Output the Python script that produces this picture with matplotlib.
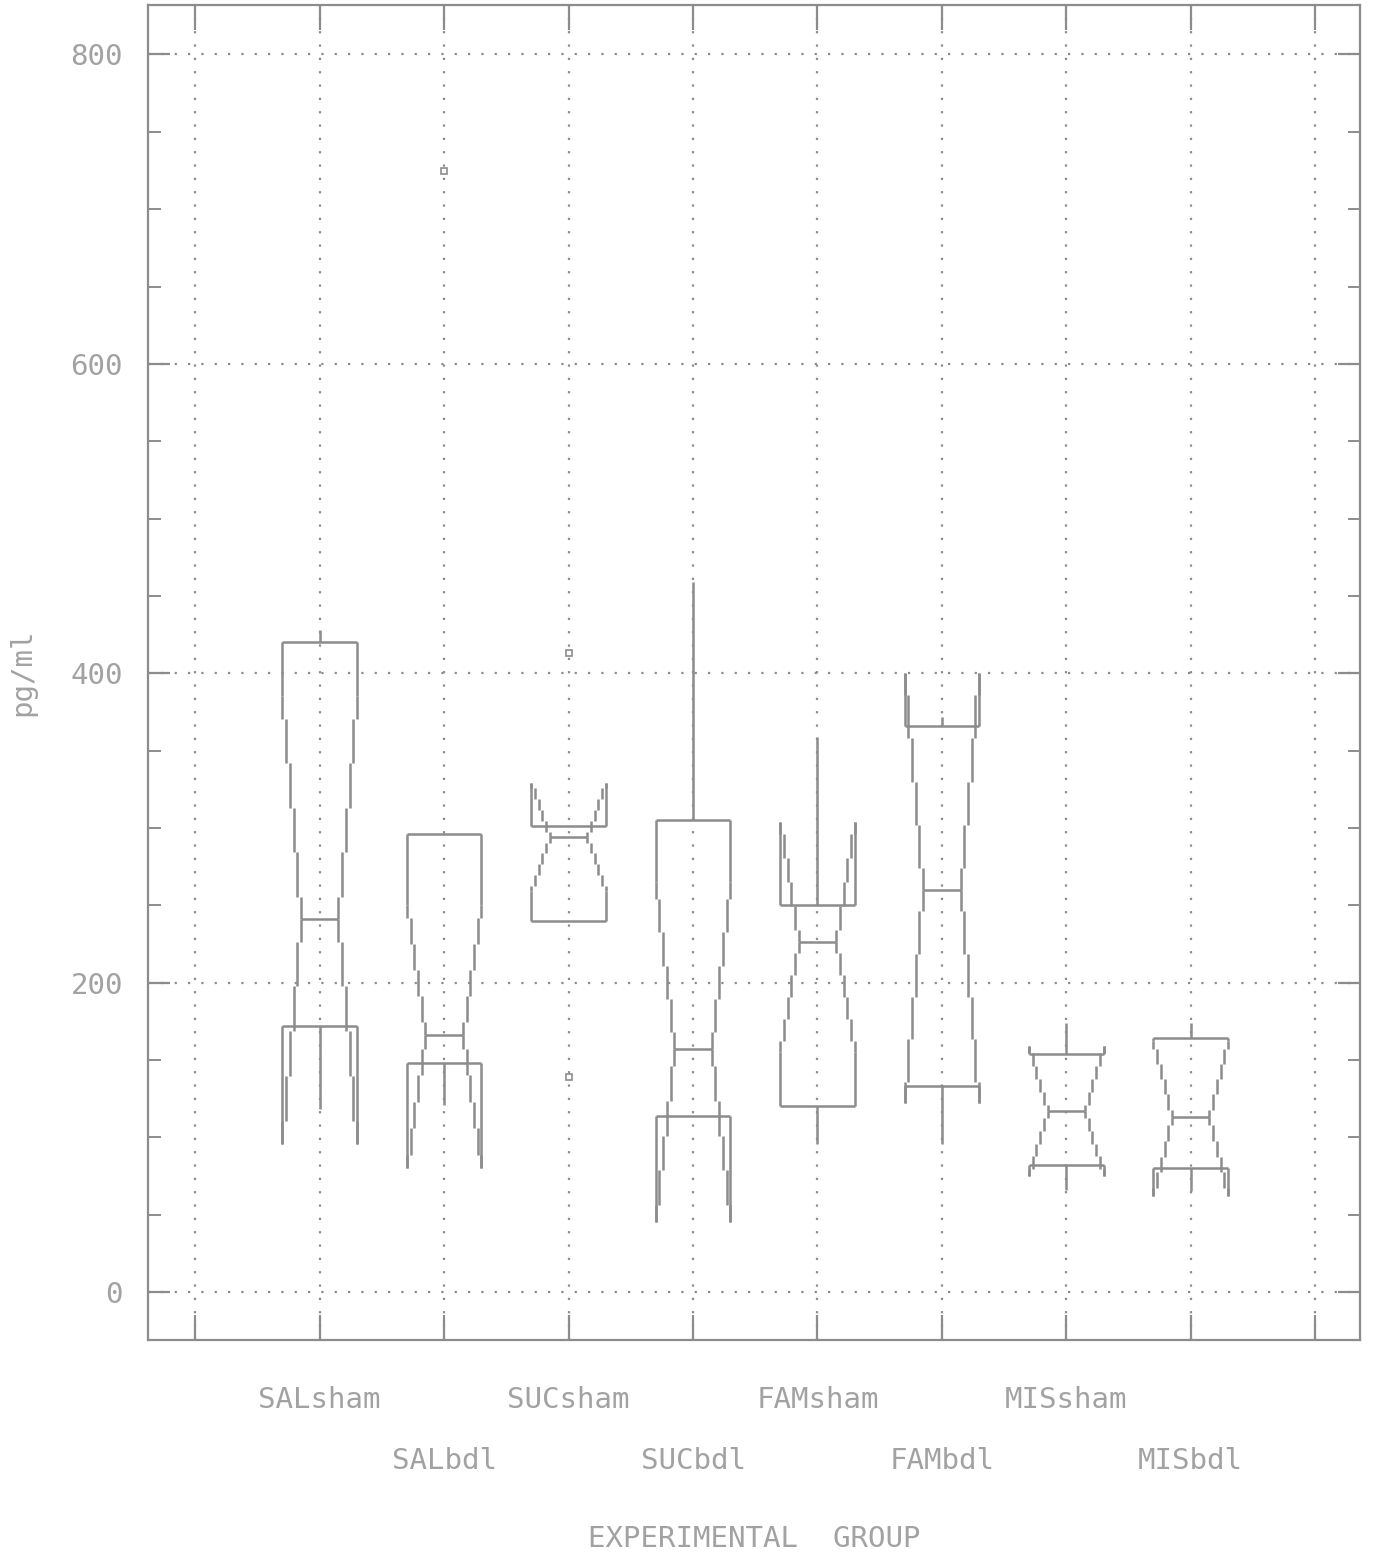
import numpy as np
import matplotlib
matplotlib.use("Agg")
from matplotlib import pyplot as plt
from matplotlib.collections import LineCollection
from matplotlib.transforms import blended_transform_factory

# group names and box statistics (pg/ml)
groups = ["SALsham", "SALbdl", "SUCsham", "SUCbdl",
          "FAMsham", "FAMbdl", "MISsham", "MISbdl"]
q1 = [172, 148, 240, 114, 120, 133, 82, 80]
median = [241, 166, 294, 157, 226, 260, 117, 113]
q3 = [420, 296, 301, 305, 250, 366, 154, 164]
notch_lo = [96, 80, 259, 45, 155, 122, 75, 62]
notch_hi = [385, 250, 329, 265, 304, 400, 159, 162]
whisker_lo = [118, 121, 240, 114, 96, 96, 66, 65]
whisker_hi = [428, 296, 301, 459, 359, 372, 174, 174]
outlier_x = [2, 3, 3]
outlier_y = [725, 413, 139]

LINE = "#8c8c8c"
TEXT = "#a2a2a2"
HALF_W = 0.3
STEP = 0.03
FS = 21


def stair(x0, y0, x1, y1):
    # plotter-style rendering of a steep line: short vertical runs
    n = max(1, int(round(abs(x1 - x0) / STEP)))
    xs = np.linspace(x0, x1, n + 1)
    ys = np.linspace(y0, y1, n + 1)
    segs = []
    for i in range(n + 1):
        ya = ys[max(i - 1, 0)] * 0.5 + ys[i] * 0.5
        yb = ys[min(i + 1, n)] * 0.5 + ys[i] * 0.5
        segs.append([(xs[i], ya), (xs[i], yb)])
    return segs


fig = plt.figure(figsize=(13.73, 15.59), dpi=100)
ax = fig.add_axes([0.1078, 0.1405, 0.8827, 0.8563])
ax.set_xlim(-0.38, 9.36)
ax.set_ylim(-31, 832)

# dotted grid at group positions and every 200 pg/ml
for gx in range(10):
    ax.axvline(gx, color=LINE, lw=1.6, dashes=(1, 5), zorder=1)
for gy in range(0, 801, 200):
    ax.axhline(gy, color=LINE, lw=1.6, dashes=(1, 5), zorder=1)

for i in range(len(groups)):
    x = i + 1
    segs = []
    for sgn in (-1, 1):
        xo = x + sgn * HALF_W
        xi = x + sgn * HALF_W / 2
        segs.append([(xo, q3[i]), (xo, notch_hi[i])])
        segs += stair(xo, notch_hi[i], xi, median[i])
        segs += stair(xi, median[i], xo, notch_lo[i])
        segs.append([(xo, notch_lo[i]), (xo, q1[i])])
    segs.append([(x - HALF_W, q3[i]), (x + HALF_W, q3[i])])
    segs.append([(x - HALF_W, q1[i]), (x + HALF_W, q1[i])])
    segs.append([(x - HALF_W / 2, median[i]), (x + HALF_W / 2, median[i])])
    segs.append([(x, q3[i]), (x, whisker_hi[i])])
    segs.append([(x, q1[i]), (x, whisker_lo[i])])
    ax.add_collection(LineCollection(segs, colors=LINE, linewidths=1.8,
                                     capstyle="butt", zorder=3))

ax.plot(outlier_x, outlier_y, "s", ms=5, mfc="none", mec=LINE, mew=1.2,
        zorder=4)

# frame and ticks
for sp in ax.spines.values():
    sp.set_color(LINE)
    sp.set_linewidth(1.6)
ax.set_xticks(range(10))
ax.set_xticklabels([])
ax.set_yticks(range(0, 801, 200))
ax.set_yticks(range(0, 801, 50), minor=True)
ax.tick_params(axis="x", which="both", direction="in", top=True,
               length=18, width=1.6, color=LINE)
ax.tick_params(axis="y", which="major", direction="in", right=True,
               length=16, width=1.6, color=LINE, pad=18,
               labelsize=FS, labelcolor=TEXT)
ax.tick_params(axis="y", which="minor", direction="in", right=True,
               length=9, width=1.4, color=LINE)
for lab in ax.get_yticklabels():
    lab.set_family("DejaVu Sans Mono")

# two staggered rows of group names under the axis
trans = blended_transform_factory(ax.transData, ax.transAxes)
for i, name in enumerate(groups):
    row_y = -0.045 if i % 2 == 0 else -0.091
    ax.text(i + 1, row_y, name, transform=trans, ha="center", va="center",
            fontsize=FS, color=TEXT, family="DejaVu Sans Mono")

ax.text(0.5, -0.149, "EXPERIMENTAL  GROUP", transform=ax.transAxes,
        ha="center", va="center", fontsize=FS, color=TEXT,
        family="DejaVu Sans Mono")
ax.text(-0.104, 0.5, "pg/ml", transform=ax.transAxes, rotation=90,
        ha="center", va="center", fontsize=FS, color=TEXT,
        family="DejaVu Sans Mono")

fig.savefig("out.png", dpi=100, facecolor="white")
